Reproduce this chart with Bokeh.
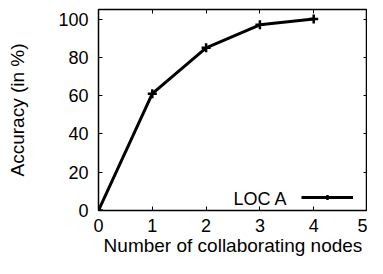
from bokeh.plotting import figure
from bokeh.models import (LinearAxis, Range1d, FixedTicker, Legend, LegendItem,
                          Label, ColumnDataSource)
from bokeh.embed import file_html
from bokeh.resources import INLINE

# data
nodes = [0, 1, 2, 3, 4]
accuracy = [0, 61, 85, 97, 100]
series_name = "LOC A"
x_ticks = [0, 1, 2, 3, 4, 5]
y_ticks = [0, 20, 40, 60, 80, 100]
x_label = "Number of collaborating nodes"
y_label = "Accuracy (in %)"

FONT = "Liberation Sans"
TICK_FS = "18px"
LABEL_FS = "19px"

p = figure(width=367, height=258, output_backend="svg", toolbar_location=None,
           x_range=Range1d(0, 5), y_range=Range1d(0, 105),
           min_border_left=98, min_border_right=0, min_border_top=9,
           min_border_bottom=0)
p.background_fill_color = "white"
p.border_fill_color = "white"
p.outline_line_color = "black"
p.outline_line_width = 1.5
p.grid.visible = False

src = ColumnDataSource(dict(x=nodes, y=accuracy))
ln = p.line("x", "y", source=src, line_color="black", line_width=3)
mk = p.scatter("x", "y", source=src, marker="cross", size=9,
               line_color="black", line_width=2.5)

def style_axis(ax, show_labels, ticks):
    ax.axis_line_color = None
    ax.major_tick_in = 4
    ax.major_tick_out = 0
    ax.major_tick_line_color = "black"
    ax.major_tick_line_width = 1
    ax.minor_tick_line_color = None
    if show_labels:
        ax.major_label_text_font = FONT
        ax.major_label_text_font_size = TICK_FS
        ax.major_label_text_color = "black"
        ax.axis_label_text_font = FONT
        ax.axis_label_text_font_size = LABEL_FS
        ax.axis_label_text_font_style = "normal"
        ax.axis_label_text_color = "black"
    else:
        ax.major_label_overrides = {t: "" for t in ticks}
        ax.major_label_text_font_size = "1px"
        ax.major_label_standoff = 0
        ax.axis_label = None

xa = p.xaxis[0]
xa.ticker = FixedTicker(ticks=x_ticks)
xa.axis_label = x_label
style_axis(xa, True, x_ticks)
xa.major_label_standoff = 8
xa.axis_label_standoff = 0

ya = p.yaxis[0]
ya.ticker = FixedTicker(ticks=y_ticks)
ya.axis_label = y_label
style_axis(ya, True, y_ticks)
ya.major_label_standoff = 10
ya.axis_label_standoff = 27

top = LinearAxis(ticker=FixedTicker(ticks=x_ticks))
style_axis(top, False, x_ticks)
p.add_layout(top, "above")
right = LinearAxis(ticker=FixedTicker(ticks=y_ticks))
style_axis(right, False, y_ticks)
p.add_layout(right, "right")

legend = Legend(items=[LegendItem(label="", renderers=[ln, mk])],
                location=(203, 7), margin=0, padding=0,
                glyph_width=52, glyph_height=12, label_width=0,
                label_height=12, label_standoff=0,
                label_text_font_size="1px",
                border_line_color=None, background_fill_alpha=0)
p.add_layout(legend, "center")

lab = Label(x=189, y=12, x_units="screen", y_units="screen", text=series_name,
            text_font=FONT, text_font_size=TICK_FS, text_align="right",
            text_baseline="middle", text_color="black")
p.add_layout(lab)

open("out.html", "w").write(file_html(p, INLINE))
